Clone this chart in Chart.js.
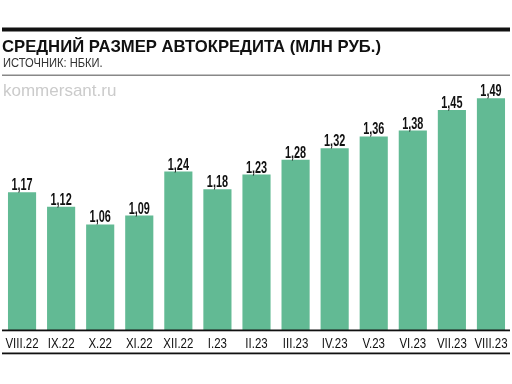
<!DOCTYPE html>
<html><head><meta charset="utf-8">
<script src="https://cdn.jsdelivr.net/npm/chart.js@4/dist/chart.umd.min.js"></script>
<style>html,body{margin:0;padding:0;background:#fff}canvas{display:block}</style>
</head><body>
<canvas id="c" width="512" height="384"></canvas>
<script>
const categories = ["VIII.22","IX.22","X.22","XI.22","XII.22","I.23","II.23","III.23","IV.23","V.23","VI.23","VII.23","VIII.23"];
const values = [1.17,1.12,1.06,1.09,1.24,1.18,1.23,1.28,1.32,1.36,1.38,1.45,1.49];
const title = "СРЕДНИЙ РАЗМЕР АВТОКРЕДИТА (МЛН РУБ.)";
const subtitle = "ИСТОЧНИК: НБКИ.";
const watermark = "kommersant.ru";

const SANS = '"Liberation Sans", Arial, sans-serif';

function narrowText(ctx, text, x, y, sx) {
  ctx.save();
  ctx.translate(x, y);
  ctx.scale(sx, 1);
  ctx.fillText(text, 0, 0);
  ctx.restore();
}

const decor = {
  id: 'decor',
  beforeDraw(chart) {
    const ctx = chart.ctx;
    ctx.save();
    ctx.fillStyle = '#fff';
    ctx.fillRect(0, 0, chart.width, chart.height);
    ctx.fillStyle = '#111';
    ctx.fillRect(2, 27.5, 508, 4);
    ctx.textBaseline = 'alphabetic';
    ctx.textAlign = 'left';
    ctx.font = 'bold 17px ' + SANS;
    ctx.fillStyle = '#111';
    narrowText(ctx, title, 2, 52, 0.98);
    ctx.font = '12px ' + SANS;
    ctx.fillStyle = '#333';
    narrowText(ctx, subtitle, 3, 67, 0.93);
    ctx.fillStyle = '#888';
    ctx.fillRect(2, 74.5, 508, 1.5);
    ctx.font = '17px ' + SANS;
    ctx.fillStyle = '#cbcbcb';
    narrowText(ctx, watermark, 3, 96, 1.0);
    ctx.restore();
  },
  afterDraw(chart) {
    const ctx = chart.ctx;
    const a = chart.chartArea;
    const meta = chart.getDatasetMeta(0);
    ctx.save();
    ctx.fillStyle = '#111';
    ctx.fillRect(2, a.bottom - 0.5, 508, 1.8);
    ctx.fillRect(2, 352.5, 508, 1.8);
    ctx.font = '15.5px ' + SANS;
    ctx.textAlign = 'center';
    ctx.textBaseline = 'alphabetic';
    meta.data.forEach((bar, i) => {
      narrowText(ctx, categories[i], bar.x, a.bottom + 17.8, 0.74);
    });
    ctx.restore();
  },
  afterDatasetsDraw(chart) {
    const ctx = chart.ctx;
    const meta = chart.getDatasetMeta(0);
    ctx.save();
    ctx.font = 'bold 16px ' + SANS;
    ctx.fillStyle = '#111';
    ctx.textAlign = 'center';
    ctx.textBaseline = 'alphabetic';
    meta.data.forEach((bar, i) => {
      narrowText(ctx, values[i].toFixed(2).replace('.', ','), bar.x, bar.y - 2, 0.68);
    });
    ctx.restore();
  }
};

new Chart(document.getElementById('c'), {
  type: 'bar',
  data: {
    labels: categories,
    datasets: [{
      data: values,
      backgroundColor: '#62ba94',
      borderWidth: 0,
      barPercentage: 0.72,
      categoryPercentage: 1
    }]
  },
  options: {
    responsive: false,
    devicePixelRatio: 1,
    animation: false,
    layout: { padding: { left: 2.5, right: 1.5, top: 66, bottom: 0 } },
    plugins: { legend: { display: false }, tooltip: { enabled: false }, title: { display: false } },
    scales: {
      x: {
        grid: { display: false, drawTicks: false },
        border: { display: false },
        ticks: { display: false },
        afterFit(scale) { scale.height = 54; }
      },
      y: { display: false, min: 0.7, max: 1.6 }
    }
  },
  plugins: [decor]
});
</script>
</body></html>
